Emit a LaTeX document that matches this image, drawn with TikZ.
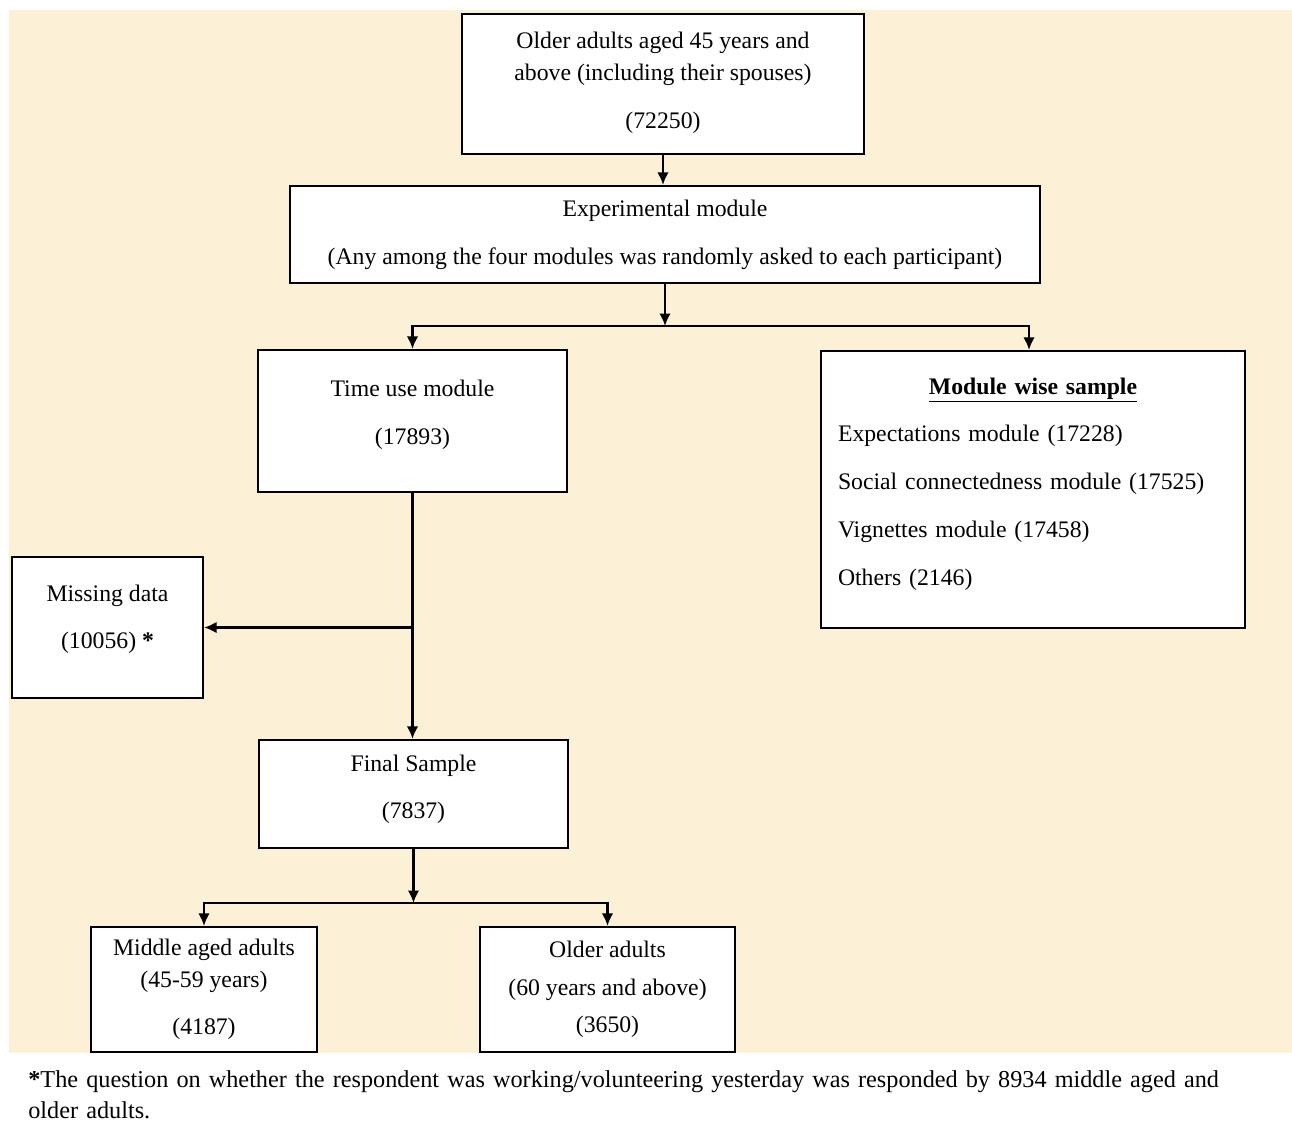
\documentclass[tikz,border=0pt]{standalone}
\usepackage{xcolor}
\usepackage{fontspec}
\setmainfont{Liberation Serif}
\usepackage{tikz}
\usetikzlibrary{shapes,arrows,arrows.meta,positioning,calc}
\definecolor{parchment}{RGB}{252, 240, 215}
\newcommand{\boxfont}{\fontsize{13.5}{18.2}\selectfont}
\newcommand{\notefont}{\fontsize{13.8}{17.6}\selectfont}

\tikzset{
    flowbox/.style={draw=black, line width=1.2pt, fill=white, align=center, font=\boxfont, inner sep=0pt},
    flowline/.style={line width=1.3pt},
    flowarrow/.style={line width=1.3pt, -{Latex[length=2.5mm, width=2.3mm]}},
}

\begin{document}
\begin{tikzpicture}
    \useasboundingbox (0,0) rectangle (258.4mm, -224.8mm);
    \fill[white] (0,0) rectangle (258.4mm, -224.8mm);
    \fill[parchment] (1.8mm, -2mm) rectangle (258.4mm, -210.6mm);

    % boxes
    \node[flowbox, minimum width=80.4mm, minimum height=28mm] (adults) at (132.6mm, -16.8mm)
        {Older adults aged 45 years and\\above (including their spouses)\\[9pt](72250)\\[-14pt]\mbox{}};
    \node[flowbox, minimum width=150mm, minimum height=19.4mm] (exper) at (133mm, -46.9mm)
        {Experimental module\\[9pt](Any among the four modules was randomly asked to each participant)};
    \node[flowbox, minimum width=61.8mm, minimum height=28.4mm] (timeuse) at (82.5mm, -84.2mm)
        {Time use module\\[9pt](17893)\\[-8pt]\mbox{}};
    \node[flowbox, align=left, text width=78mm, inner xsep=3.4mm, minimum height=55.4mm] (modwise) at (206.6mm, -97.9mm)
        {\makebox[78mm][c]{\underline{\textbf{Module wise sample}}}\\[9pt]
         Expectations module (17228)\\[9pt]
         Social connectedness module (17525)\\[9pt]
         Vignettes module (17458)\\[9pt]
         Others (2146)\\[-9pt]\mbox{}};
    \node[flowbox, minimum width=38.2mm, minimum height=28.2mm] (missing) at (21.5mm, -125.5mm)
        {Missing data\\[9pt](10056) \textbf{*}\\[-6pt]\mbox{}};
    \node[flowbox, minimum width=61.8mm, minimum height=21.6mm] (final) at (82.7mm, -158.8mm)
        {Final Sample\\[9pt](7837)\\[-10pt]\mbox{}};
    \node[flowbox, minimum width=45.2mm, minimum height=25mm] (middle) at (40.8mm, -197.9mm)
        {Middle aged adults\\(45-59 years)\\[8.5pt](4187)};
    \node[flowbox, minimum width=51mm, minimum height=25mm] (older) at (121.5mm, -197.9mm)
        {Older adults\\[3.5pt](60 years and above)\\[3pt](3650)};

    % connectors
    \coordinate (split1) at (133mm, -65.2mm);
    \coordinate (split2) at (82.7mm, -180.6mm);
    \draw[flowarrow] (adults.south) -- (adults.south |- exper.north);
    \draw[flowarrow] (exper.south) -- (split1);
    \draw[flowarrow] (split1) -| (timeuse.north);
    \draw[flowarrow] (split1) -| ($(modwise.north)+(-0.8mm,0)$);
    \draw[flowarrow] (timeuse.south) -- (timeuse.south |- final.north);
    \draw[flowarrow] (timeuse.south |- missing.east) -- (missing.east);
    \draw[flowarrow] (final.south) -- (split2);
    \draw[flowarrow] (split2) -| (middle.north);
    \draw[flowarrow] (split2) -| (older.north);

    % footnote
    \node[anchor=west, align=left, text width=256mm, inner sep=0pt, font=\notefont] (note) at (5.6mm, -218.9mm)
        {\textbf{*}The question on whether the respondent was working/volunteering yesterday was responded by 8934 middle aged and\\older adults.};
\end{tikzpicture}
\end{document}
